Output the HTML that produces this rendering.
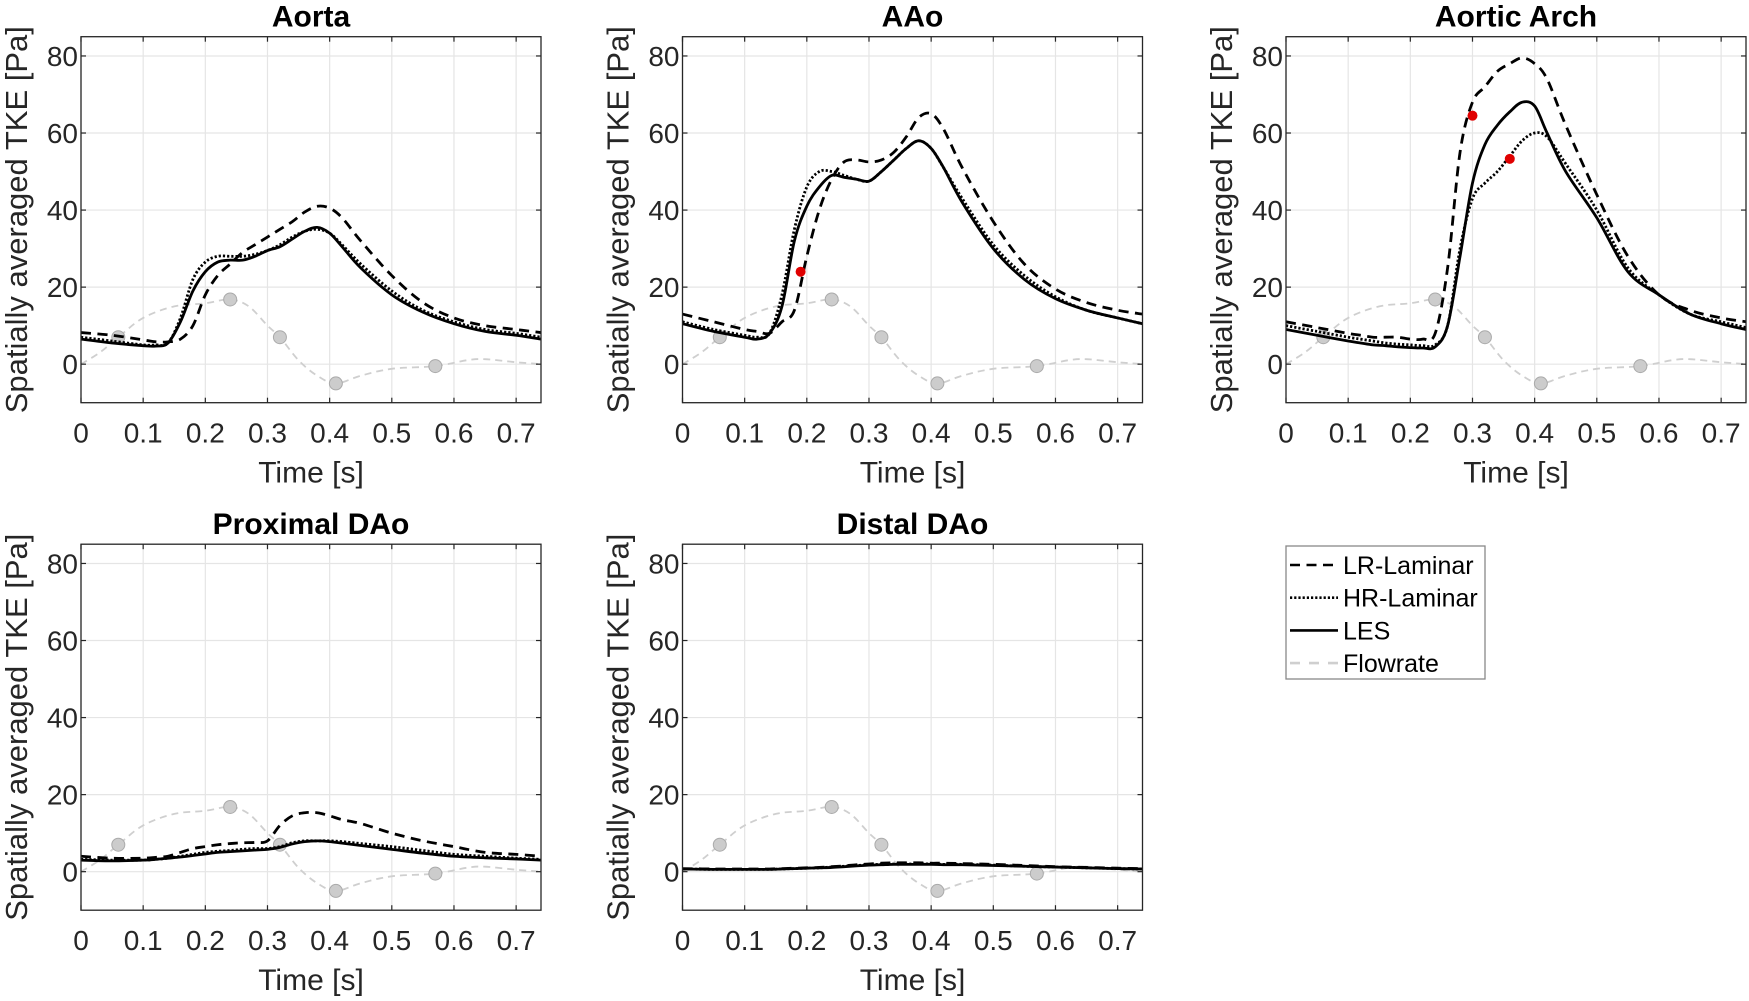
<!DOCTYPE html>
<html><head><meta charset="utf-8"><style>
html,body{margin:0;padding:0;background:#fff;}
svg{display:block;font-family:"Liberation Sans",Arial,sans-serif;}
</style></head><body>
<svg id="fig" width="1749" height="1001" viewBox="0 0 1749 1001"></svg>
<script>
const T = [0,0.05,0.1,0.12,0.14,0.16,0.18,0.2,0.22,0.24,0.26,0.28,0.3,0.32,0.34,0.36,0.38,0.4,0.42,0.45,0.5,0.55,0.6,0.65,0.7,0.74];
const xTicks = [0,0.1,0.2,0.3,0.4,0.5,0.6,0.7];
const yTicks = [0,20,40,60,80];
const flowT = [0,0.03,0.06,0.1,0.15,0.2,0.24,0.27,0.3,0.32,0.35,0.38,0.41,0.45,0.5,0.57,0.62,0.65,0.7,0.74];
const flowV = [0,3,7,12,15,15.8,16.8,15,10,7,1,-3,-5,-3,-1.2,-0.5,1,1.3,0.5,0];
const flowMarkT = [0.06,0.24,0.32,0.41,0.57];
const flowMarkV = [7,16.8,7,-5,-0.5];

const aortaLR  = [8.2,7.5,6.3,5.8,5.8,6.5,10,18,23,26,29,31,33,35,37,39.5,41,40.5,38,32,23,16,12,10,9,8.2];
const aortaHR  = [7,6,5,5,5.5,12,22,26.5,28,28,28,28.5,29.5,31,33,34.5,35,34,31,26,19,14,11,9,8,7];
const aortaLES = [6.5,5.5,4.8,4.7,5.5,11,19,24,26.5,27,27,28,29.5,30.5,32.5,34.5,35.5,34,30.5,25,18,13.5,10.5,8.5,7.5,6.5];

const aaoLR  = [13,11,9,8.5,8,11,14,28,40,48,52.5,53,52.5,53,55,59,64,65,61,51,37,26,19.5,16,14,13];
const aaoHR  = [11,9,7.5,7,8,18,35,46,50,50,49,48,47.5,50,53,56,58,56,51,43,31,23,17.5,14,12,10.5];
const aaoLES = [10.5,8.5,7,6.5,8,15,32,41,46,49,48.5,48,47.5,50,53,56,58,56,51,42,30,22,17,14,12,10.5];
const aaoRedT = [0.19];
const aaoRedV = [24];

const archLR  = [11,9.5,8,7.5,7,7,7,6.5,6.5,8,25,55,68,72,76,78,79.5,78,74,62,44,28,18,14,12,11];
const archHR  = [10,8.5,7,6.5,6,5.5,5.2,5,4.8,5,10,30,43,47,50,54,58,60,59,52,40,25,18,13,11,9.5];
const archLES = [9,7.5,6,5.5,5,4.8,4.5,4.3,4.2,4.5,10,28,47,57,62,65.5,68,67,60,50,38,24,18,13,10.5,9];
const archRedT = [0.3,0.36];
const archRedV = [64.5,53.3];

const proxLR  = [4,3.5,3.5,3.7,4,5,6,6.5,7,7.3,7.5,7.6,8,12,14.5,15.3,15.3,14.5,13.5,12.5,10,8,6.5,5,4.5,4];
const proxHR  = [3.2,3,3,3.2,3.5,4,4.5,5,5.3,5.5,5.8,6,6,6.5,7.5,8,8,8,7.8,7.3,6.5,5.5,4.5,4,3.5,3.2];
const proxLES = [3,2.8,3,3.2,3.5,3.8,4.2,4.6,5,5.2,5.4,5.6,5.8,6.3,7.2,7.8,8,7.8,7.4,6.8,5.8,4.8,4,3.6,3.3,3];

const distLR  = [0.8,0.7,0.7,0.7,0.7,0.8,0.9,1,1.1,1.3,1.5,1.8,2,2.2,2.3,2.3,2.3,2.2,2.2,2.1,1.9,1.6,1.3,1.1,0.9,0.8];
const distHR  = [0.7,0.6,0.6,0.6,0.6,0.7,0.8,0.9,1,1.2,1.4,1.6,1.8,1.9,2,2,2,2,1.9,1.9,1.7,1.4,1.2,1,0.8,0.7];
const distLES = [0.7,0.6,0.6,0.6,0.6,0.7,0.8,0.9,1,1.1,1.3,1.5,1.7,1.8,1.9,1.9,1.9,1.9,1.8,1.8,1.6,1.4,1.2,1,0.8,0.7];

const NS='http://www.w3.org/2000/svg';
const svg=document.getElementById('fig');
function mk(tag,attrs,parent){const e=document.createElementNS(NS,tag);for(const k in attrs)e.setAttribute(k,attrs[k]);(parent||svg).appendChild(e);return e;}
function smooth(pts){
  let d='M'+pts[0][0].toFixed(2)+','+pts[0][1].toFixed(2);
  for(let i=0;i<pts.length-1;i++){
    const p0=pts[Math.max(0,i-1)],p1=pts[i],p2=pts[i+1],p3=pts[Math.min(pts.length-1,i+2)];
    const c1x=p1[0]+(p2[0]-p0[0])/6,c1y=p1[1]+(p2[1]-p0[1])/6;
    const c2x=p2[0]-(p3[0]-p1[0])/6,c2y=p2[1]-(p3[1]-p1[1])/6;
    d+=' C'+c1x.toFixed(2)+','+c1y.toFixed(2)+' '+c2x.toFixed(2)+','+c2y.toFixed(2)+' '+p2[0].toFixed(2)+','+p2[1].toFixed(2);
  }
  return d;
}
const W=460,H=366,XMAX=0.74,YMIN=-10,YMAX=85;
function panel(name,title,left,top,lr,hr,les,redT,redV){
  const g=mk('g',{});
  
  
  const sx=t=>left+t/XMAX*W;
  const sy=v=>top+(YMAX-v)/(YMAX-YMIN)*H;
  xTicks.forEach(t=>{const l=mk('line',{x1:sx(t),x2:sx(t),y1:top,y2:top+H,stroke:'#e5e5e5','stroke-width':1.2},g);
    });
  yTicks.forEach(v=>{const l=mk('line',{x1:left,x2:left+W,y1:sy(v),y2:sy(v),stroke:'#e5e5e5','stroke-width':1.2},g);
    });
  const cid='clip-'+name;
  const cp=mk('clipPath',{id:cid},g);mk('rect',{x:left,y:top,width:W,height:H},cp);
  const cg=mk('g',{'clip-path':'url(#'+cid+')'},g);
  const fl=mk('path',{d:smooth(flowT.map((t,i)=>[sx(t),sy(flowV[i])])),fill:'none',stroke:'#cfcfcf','stroke-width':1.8,'stroke-dasharray':'7 5'},cg);
  
  flowMarkT.forEach((t,i)=>{const c=mk('circle',{cx:sx(t),cy:sy(flowMarkV[i]),r:6.5,fill:'#cccccc',stroke:'#aaaaaa','stroke-width':1},cg);
    });
  const series=[[lr,'lr-laminar-line','10 6.5'],[hr,'hr-laminar-line','2.2 2'],[les,'les-line','']];
  series.forEach(s=>{const p=mk('path',{d:smooth(T.map((t,i)=>[sx(t),sy(s[0][i])])),fill:'none',stroke:'#000','stroke-width':2.8},cg);
    if(s[2])p.setAttribute('stroke-dasharray',s[2]);
    });
  (redT||[]).forEach((t,i)=>{const c=mk('circle',{cx:sx(t),cy:sy(redV[i]),r:5,fill:'#e00000'},cg);
    });
  const b=mk('rect',{x:left,y:top,width:W,height:H,fill:'none',stroke:'#262626','stroke-width':1.3},g);
  
  xTicks.forEach(t=>{mk('line',{x1:sx(t),x2:sx(t),y1:top+H,y2:top+H-5,stroke:'#262626','stroke-width':1.2},g);
    mk('line',{x1:sx(t),x2:sx(t),y1:top,y2:top+5,stroke:'#262626','stroke-width':1.2},g);
    const tx=mk('text',{x:sx(t),y:top+H+40,'text-anchor':'middle','font-size':28,fill:'#262626'},g);tx.textContent=String(t);
    });
  yTicks.forEach(v=>{mk('line',{x1:left,x2:left+5,y1:sy(v),y2:sy(v),stroke:'#262626','stroke-width':1.2},g);
    mk('line',{x1:left+W,x2:left+W-5,y1:sy(v),y2:sy(v),stroke:'#262626','stroke-width':1.2},g);
    const tx=mk('text',{x:left-3,y:sy(v)+10,'text-anchor':'end','font-size':28,fill:'#262626'},g);tx.textContent=String(v);
    });
  const xt=mk('text',{x:left+W/2,y:top+H+80,'text-anchor':'middle','font-size':30,fill:'#262626'},g);xt.textContent='Time [s]';
  
  const cy=top+H/2;
  const yt=mk('text',{x:left-54,y:cy,'text-anchor':'middle','font-size':31,fill:'#262626',transform:'rotate(-90 '+(left-54)+' '+cy+')'},g);
  yt.textContent='Spatially averaged TKE [Pa]';
  
  const ti=mk('text',{x:left+W/2,y:top-10,'text-anchor':'middle','font-size':30,'font-weight':'bold',fill:'#000'},g);ti.textContent=title;
  
}
panel('aorta-panel','Aorta',81,36.7,aortaLR,aortaHR,aortaLES);
panel('aao-panel','AAo',682.5,36.7,aaoLR,aaoHR,aaoLES,aaoRedT,aaoRedV);
panel('aortic-arch-panel','Aortic Arch',1286,36.7,archLR,archHR,archLES,archRedT,archRedV);
panel('proximal-dao-panel','Proximal DAo',81,544.2,proxLR,proxHR,proxLES);
panel('distal-dao-panel','Distal DAo',682.5,544.2,distLR,distHR,distLES);

const lg=mk('g',{});


mk('rect',{x:1286,y:546,width:199,height:133,fill:'#fff',stroke:'#888','stroke-width':1.3},lg);
const legItems=[['LR-Laminar','#000','10 6.5',2.6],['HR-Laminar','#000','2.2 2',2.6],['LES','#000','',2.6],['Flowrate','#cfcfcf','10 9',2.6]];
legItems.forEach((it,i)=>{
  const y=565+i*32.7;
  const ln=mk('line',{x1:1290,x2:1338,y1:y,y2:y,stroke:it[1],'stroke-width':it[3]},lg);
  if(it[2])ln.setAttribute('stroke-dasharray',it[2]);
  
  
  const tx=mk('text',{x:1343,y:y+9,'font-size':25,fill:'#000'},lg);tx.textContent=it[0];
  
  
});
</script>
</body></html>
